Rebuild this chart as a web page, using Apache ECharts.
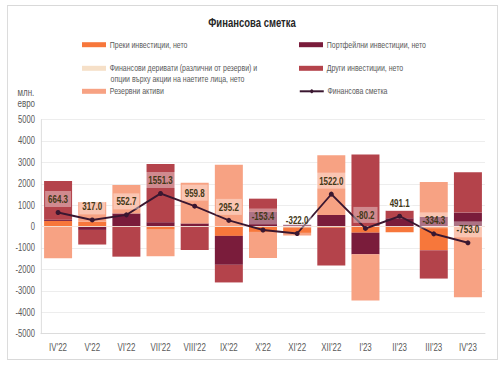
<!DOCTYPE html>
<html><head><meta charset="utf-8">
<script src="https://cdn.jsdelivr.net/npm/echarts@6/dist/echarts.min.js"></script>
<style>html,body{margin:0;padding:0;background:#fff;overflow:hidden;width:504px;height:367px}
#c{height:367px;transform-origin:0 0}</style>
</head><body><div id="c"></div>
<script>
const categories = ["IV'22","V'22","VI'22","VII'22","VIII'22","IX'22","X'22","XI'22","XII'22","I'23","II'23","III'23","IV'23"];
const direct      = [270, 240, 0, -140, 0, -430, -245, -290, -50, -280, -259, -1100, 0];
const portfolio   = [60, -150, 620, 210, 155, -1350, 690, 90, 550, -1010, 400, 470, 660];
const derivatives = [0, 0, 0, 0, 0, 0, 0, 0, 0, 0, 0, 0, 0];
const other       = [1810, -683, -1400, 2720, -1090, -825, 620, 0, -1763, 3370, 350, -1324, 1880];
const reserves    = [-1476, 910, 1330, -1240, 1900, 2900, -1218, -122, 2785, -2160, 0, 1620, -3293];
const financial   = [664.3, 317.0, 552.7, 1551.3, 959.8, 295.2, -153.4, -322.0, 1522.0, -80.2, 491.1, -334.3, -753.0];
const yTicks = [-5000, 5000, 1000];

const names = ['Преки инвестиции, нето','Портфейлни инвестиции, нето','Финансови деривати (различни от резерви) и','Други инвестиции, нето','Резервни активи','Финансова сметка'];
const colors = ['#F7773B','#7A1C3B','#F6E0C8','#B4434B','#F7A283','#3A1730'];
const FF = "'Liberation Sans',Arial,sans-serif";
const gray = '#595959';

// horizontal compression of the whole drawing
const S = 0.76;
const W = 504 / S;
const el = document.getElementById('c');
el.style.width = W + 'px';
el.style.transform = 'scaleX(' + S + ')';
const X = v => v / S;

const chart = echarts.init(el, null, {renderer:'svg', width:W, height:367});
function bar(i, data, extra){
  return Object.assign({name:names[i], type:'bar', stack:'s', data:data, barWidth:X(28),
    itemStyle:{color:colors[i]}, z:2, emphasis:{disabled:true}}, extra||{});
}
const legPos = [[82,40.2],[299,40.2],[82,63.8],[299,63.8],[82,86.8],[299,86.8]];
const legends = names.map((n,i)=>({
  data:[n], left:X(legPos[i][0]), top:legPos[i][1], padding:0, itemWidth:X(24), itemHeight:5,
  icon: i===5 ? undefined : 'rect', selectedMode:false,
  textStyle:{fontFamily:FF, fontSize:9.2, color:gray}
}));
chart.setOption({
  animation:false,
  textStyle:{fontFamily:FF},
  title:{text:'Финансова сметка', left:'center', top:16, padding:0, textStyle:{fontFamily:FF, fontSize:12.5, fontWeight:'bold', color:'#262626'}},
  legend: legends,
  graphic:[
    {type:'rect', shape:{x:X(7.5),y:5.5,width:X(490),height:354}, style:{fill:'none', stroke:'#D9D9D9', lineWidth:1.2}, silent:true},
    {type:'text', left:X(110.5), top:75, style:{text:'опции върху акции на наетите лица, нето', font:"9.2px "+FF, fill:gray}},
    {type:'text', left:X(17.5), top:87, style:{text:'млн.\nевро', font:"10.5px "+FF, fill:gray, lineHeight:11}}
  ],
  grid:{left:X(41), right:X(19), top:119.7, bottom:33.3, containLabel:false},
  xAxis:{type:'category', data:categories,
    axisLine:{onZero:false, lineStyle:{color:'#D9D9D9'}}, axisTick:{show:false},
    axisLabel:{color:gray, fontSize:10.5, fontFamily:FF, margin:8, interval:0}},
  yAxis:{type:'value', min:yTicks[0], max:yTicks[1], interval:yTicks[2],
    axisLine:{show:true, lineStyle:{color:'#D9D9D9'}}, axisTick:{show:false},
    splitLine:{lineStyle:{color:'#EBEBEB'}},
    axisLabel:{color:gray, fontSize:10, fontFamily:FF, margin:X(6), formatter:v=>String(v)}},
  series:[
    bar(0, direct), bar(1, portfolio), bar(2, derivatives), bar(3, other),
    bar(4, reserves, {markLine:{silent:true, symbol:'none', label:{show:false},
      lineStyle:{color:'#F5E6DC', type:'solid', width:1}, data:[{yAxis:0}], animation:false}}),
    {name:names[5], type:'line', data:financial, z:5, color:colors[5],
      lineStyle:{color:colors[5], width:2}, symbol:'circle', symbolSize:[X(5),5],
      itemStyle:{color:colors[5]},
      label:{show:true, position:'top', distance:3, formatter:p=>p.value.toFixed(1),
        fontFamily:FF, fontSize:10.5, fontWeight:'bold', color:'#433817',
        backgroundColor:'rgba(255,255,255,0.38)', padding:[3,X(3),2,X(3)]}}
  ]
});
</script></body></html>
